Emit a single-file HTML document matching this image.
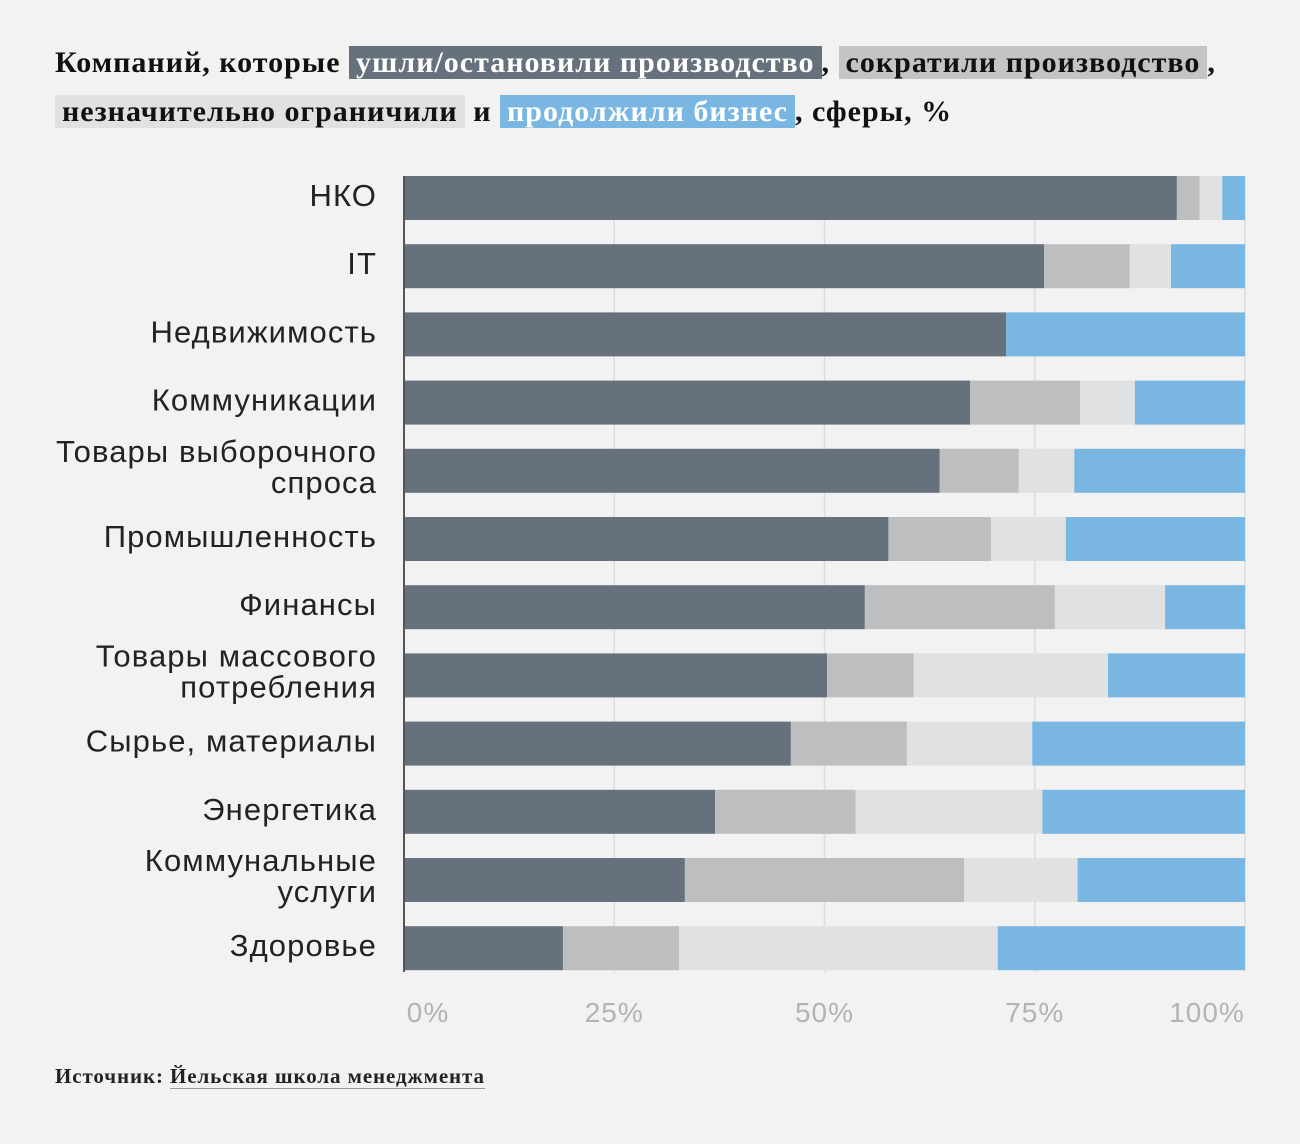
<!DOCTYPE html>
<html><head><meta charset="utf-8">
<style>
html,body{margin:0;padding:0;background:#f1f2f1;}
body{width:1300px;height:1144px;position:relative;overflow:hidden;}
.title{position:absolute;left:55px;top:38px;font-family:"Liberation Serif","Noto Serif CJK SC",serif;font-size:30px;font-weight:bold;letter-spacing:1px;color:#111;line-height:49px;white-space:nowrap;}
.hl{padding:0 7px;font-weight:bold;}
.d{background:#67717e;color:#fff;}
.g{background:#c3c4c5;}
.l{background:#e0e1e2;}
.b{background:#7ab6e2;color:#fff;}
.src{position:absolute;left:55px;top:1064px;font-family:"Liberation Serif",serif;font-size:21px;font-weight:bold;letter-spacing:0.9px;color:#222;}
.src span{border-bottom:1px solid #999;}
svg{position:absolute;left:0;top:0;}
</style></head><body>
<div class="title">Компаний, которые <span class="hl d">ушли/остановили производство</span>, <span class="hl g">сократили производство</span>,<br><span class="hl l">незначительно ограничили</span> и <span class="hl b">продолжили бизнес</span>, сферы, %</div>
<svg id="chart" width="1300" height="1144"></svg>
<div class="src">Источник: <span>Йельская школа менеджмента</span></div>
<script>
const categories=[["НКО"],["IT"],["Недвижимость"],["Коммуникации"],["Товары выборочного","спроса"],["Промышленность"],["Финансы"],["Товары массового","потребления"],["Сырье, материалы"],["Энергетика"],["Коммунальные","услуги"],["Здоровье"]];
const exited=[91.9,76.1,71.6,67.3,63.7,57.6,54.8,50.3,46.0,37.0,33.4,18.9];
const reduced=[2.7,10.2,0,13.1,9.4,12.2,22.6,10.3,13.8,16.7,33.2,13.8];
const limited=[2.7,4.9,0,6.5,6.6,8.9,13.1,23.1,14.9,22.2,13.5,37.9];
const continued=exited.map((v,i)=>100-v-reduced[i]-limited[i]);
const ticks=[0,25,50,75,100];
const tickLabels=["0%","25%","50%","75%","100%"];
const NS="http://www.w3.org/2000/svg";
const svg=document.getElementById('chart');
const x0=404,x1=1245;
const xs=v=>x0+(x1-x0)*v/100;
const rowTop=i=>176+i*68.2;
const bh=44;
function mk(t,a){const e=document.createElementNS(NS,t);for(const k in a)e.setAttribute(k,a[k]);svg.appendChild(e);return e;}
ticks.forEach((t,i)=>{
  const ln=mk('line',{x1:xs(t),x2:xs(t),y1:176,y2:972,stroke:'#dcdcdc','stroke-width':1.5});
  
  
  const tx=mk('text',{x:xs(t)+(i==0?24:i==4?-38:0),y:1022,'text-anchor':'middle','font-family':'Liberation Sans, sans-serif','font-size':28,'letter-spacing':1,fill:'#b3b3b3'});
  tx.textContent=tickLabels[i];
  
  
});
const series=[[exited,'#67717e','exited'],[reduced,'#bdbebf','reduced'],[limited,'#e0e1e2','limited'],[continued,'#7ab6e2','continued']];
categories.forEach((c,i)=>{
  let acc=0;const y=rowTop(i);
  series.forEach(([arr,col,nm])=>{
    const v=arr[i];
    if(v>0){
      const r=mk('rect',{x:xs(acc),y:y,width:xs(acc+v)-xs(acc),height:bh,fill:col});
      
      
    }
    acc+=v;
  });
  const cy=y+bh/2;
  const tx=mk('text',{x:377,'text-anchor':'end','font-family':'Liberation Sans, sans-serif','font-size':31,'letter-spacing':1.1,fill:'#222'});
  
  
  if(c.length==1){tx.setAttribute('y',cy+8);tx.textContent=c[0];}
  else{
    c.forEach((s,k)=>{const ts=document.createElementNS(NS,'tspan');ts.setAttribute('x',377);ts.setAttribute('y',cy-9+k*31);ts.textContent=s;tx.appendChild(ts);});
  }
});
const ax=mk('line',{x1:x0,x2:x0,y1:176,y2:972,stroke:'#555','stroke-width':2});


</script>
</body></html>
